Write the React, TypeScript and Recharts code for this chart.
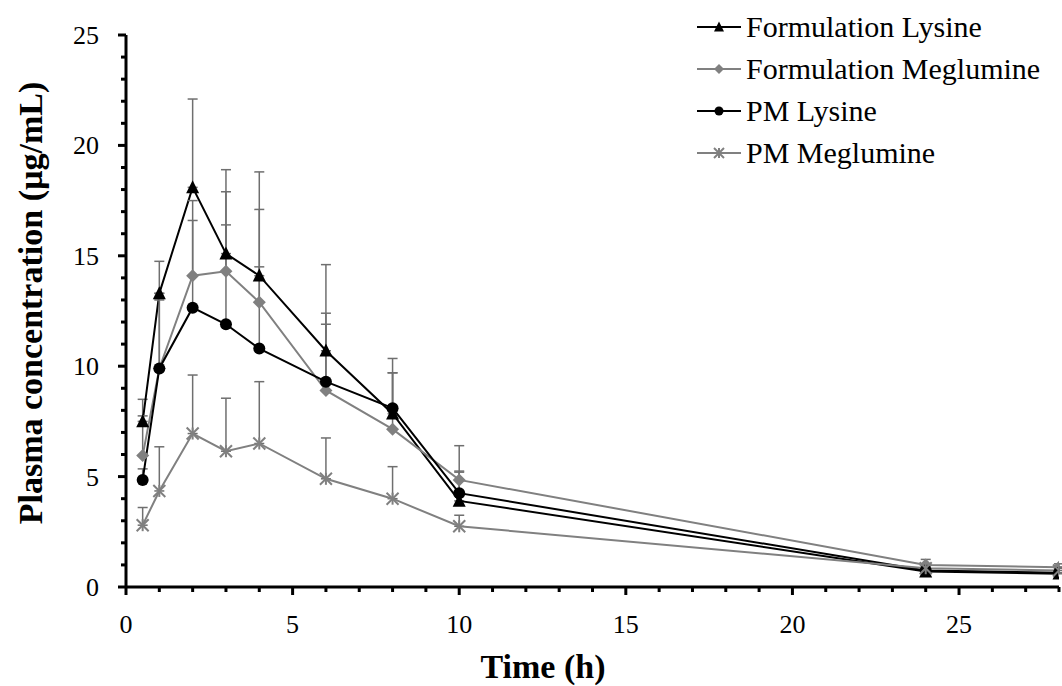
import React from "react";
import { LineChart, Line, XAxis, YAxis, ErrorBar, Legend, Label } from "recharts";

const FONT = '"Liberation Serif", "Times New Roman", serif';

// sampling times (h)
const times = [0.5, 1, 2, 3, 4, 6, 8, 10, 24, 28];

// mean plasma concentrations (µg/mL) and upper SD
const formulationLysine = [7.5, 13.3, 18.1, 15.1, 14.1, 10.7, 7.85, 3.9, 0.7, 0.6];
const formulationLysineSd = [1.0, 1.45, 4.0, 3.8, 4.7, 3.9, 2.5, 1.35, 0.35, 0.25];
const formulationMeglumine = [5.95, 9.9, 14.1, 14.3, 12.9, 8.9, 7.15, 4.85, 1.0, 0.9];
const formulationMeglumineSd = [1.8, 3.1, 3.4, 3.6, 4.2, 3.0, 2.55, 1.55, 0.25, 0.15];
const pmLysine = [4.85, 9.9, 12.65, 11.9, 10.8, 9.3, 8.1, 4.25, 0.75, 0.65];
const pmLysineSd = [0.5, 3.4, 3.95, 4.5, 3.7, 3.1, 1.6, 0.95, 0.3, 0.2];
const pmMeglumine = [2.8, 4.35, 6.95, 6.15, 6.5, 4.9, 4.0, 2.75, 0.85, 0.75];
const pmMeglumineSd = [0.8, 2.0, 2.65, 2.4, 2.8, 1.85, 1.45, 0.5, 0.2, 0.15];

const xTicks = [0, 1, 2, 3, 4, 5, 6, 7, 8, 9, 10, 11, 12, 13, 14, 15, 16, 17, 18, 19, 20, 21, 22, 23, 24, 25, 26, 27, 28];
const yTicks = [0, 1, 2, 3, 4, 5, 6, 7, 8, 9, 10, 11, 12, 13, 14, 15, 16, 17, 18, 19, 20, 21, 22, 23, 24, 25];

const data = times.map((t, i) => ({
  t,
  fl: formulationLysine[i],
  flErr: [0, formulationLysineSd[i]],
  fm: formulationMeglumine[i],
  fmErr: [0, formulationMeglumineSd[i]],
  pl: pmLysine[i],
  plErr: [0, pmLysineSd[i]],
  pm: pmMeglumine[i],
  pmErr: [0, pmMeglumineSd[i]],
}));

const BLACK = "#000000";
const GREY = "#808080";
const ERR = "#6f6f6f";

const marker = (kind: string, cx: number, cy: number, s: number, key?: any) => {
  if (kind === "triangle") {
    return (
      <polygon key={key} fill={BLACK}
        points={`${cx},${cy - s * 0.55} ${cx - s / 2},${cy + s * 0.45} ${cx + s / 2},${cy + s * 0.45}`} />
    );
  }
  if (kind === "diamond") {
    return (
      <polygon key={key} fill={GREY}
        points={`${cx},${cy - s / 2} ${cx + s / 2},${cy} ${cx},${cy + s / 2} ${cx - s / 2},${cy}`} />
    );
  }
  if (kind === "circle") {
    return <circle key={key} cx={cx} cy={cy} r={s / 2} fill={BLACK} />;
  }
  const h = s / 2;
  return (
    <g key={key} stroke={GREY} strokeWidth={2}>
      <line x1={cx - h} y1={cy - h} x2={cx + h} y2={cy + h} />
      <line x1={cx - h} y1={cy + h} x2={cx + h} y2={cy - h} />
      <line x1={cx} y1={cy - h} x2={cx} y2={cy + h} />
    </g>
  );
};

const dotFor = (kind: string, s: number) => (props: any) => {
  if (props.cx == null || props.cy == null) return <g key={props.index} />;
  return marker(kind, props.cx, props.cy, s, props.index);
};

const shapes: Record<string, string> = { fl: "triangle", fm: "diamond", pl: "circle", pm: "star" };

const XTick = (props: any) => {
  const { x, y, payload } = props;
  const major = payload.value % 5 === 0;
  return (
    <g>
      <line x1={x} y1={y} x2={x} y2={y + (major ? 8 : 5)} stroke={BLACK} strokeWidth={3} />
      {major && (
        <text x={x} y={y + 46} textAnchor="middle" fontSize={26} fill={BLACK}
          style={{ fontFamily: FONT }}>
          {payload.value}
        </text>
      )}
    </g>
  );
};

const YTick = (props: any) => {
  const { x, y, payload } = props;
  const major = payload.value % 5 === 0;
  return (
    <g>
      <line x1={x} y1={y} x2={x - (major ? 8 : 5)} y2={y} stroke={BLACK} strokeWidth={3} />
      {major && (
        <text x={x - 27} y={y + 9} textAnchor="end" fontSize={26} fill={BLACK}
          style={{ fontFamily: FONT }}>
          {payload.value}
        </text>
      )}
    </g>
  );
};

const renderLegend = (props: any) => {
  const { payload } = props;
  return (
    <svg width={372} height={180}>
      {(payload || []).map((p: any, i: number) => {
        const cy = 27 + i * 42;
        const kind = shapes[p.dataKey];
        const color = kind === "triangle" || kind === "circle" ? BLACK : GREY;
        return (
          <g key={p.value}>
            <line x1={7} y1={cy} x2={51} y2={cy} stroke={color} strokeWidth={2} />
            {marker(kind, 29, cy, kind === "circle" ? 9 : 10)}
            <text x={56} y={cy} dy="0.34em" fontSize={30} fill={BLACK} style={{ fontFamily: FONT }}>
              {p.value}
            </text>
          </g>
        );
      })}
    </svg>
  );
};

const App = () => {
  return (
    <div style={{ position: "absolute", left: 0, top: 0, background: "#fff" }}>
      <LineChart width={1062} height={686} data={data}
        margin={{ top: 35, right: 3, left: 66, bottom: 0 }}
        style={{ fontFamily: FONT }}>
        <XAxis dataKey="t" type="number" domain={[0, 28]} ticks={xTicks} interval={0}
          height={99} tickSize={0} tickMargin={0} tickLine={false} tick={<XTick />}
          axisLine={{ stroke: BLACK, strokeWidth: 3 }} allowDataOverflow>
          <Label content={() => (
            <text x={543} y={678} textAnchor="middle" fontSize={34} fontWeight="bold"
              style={{ fontFamily: FONT }} fill={BLACK}>Time (h)</text>
          )} />
        </XAxis>
        <YAxis type="number" domain={[0, 25]} ticks={yTicks} interval={0}
          width={60} tickSize={0} tickMargin={0} tickLine={false} tick={<YTick />}
          axisLine={{ stroke: BLACK, strokeWidth: 3 }} allowDataOverflow>
          <Label content={() => (
            <text transform="translate(42, 303) rotate(-90)" textAnchor="middle" fontSize={34}
              fontWeight="bold" style={{ fontFamily: FONT }} fill={BLACK}>Plasma concentration (µg/mL)</text>
          )} />
        </YAxis>
        <Legend layout="vertical" align="center" verticalAlign="middle" content={renderLegend}
          wrapperStyle={{ position: "absolute", left: 690, top: 0, width: 372, height: 180 }} />
        <Line name="Formulation Lysine" dataKey="fl" type="linear" stroke={BLACK} strokeWidth={2}
          dot={dotFor("triangle", 13)} activeDot={false} isAnimationActive={false}>
          <ErrorBar dataKey="flErr" direction="y" width={5} stroke={ERR} strokeWidth={1.5} />
        </Line>
        <Line name="Formulation Meglumine" dataKey="fm" type="linear" stroke={GREY} strokeWidth={2}
          dot={dotFor("diamond", 13)} activeDot={false} isAnimationActive={false}>
          <ErrorBar dataKey="fmErr" direction="y" width={5} stroke={ERR} strokeWidth={1.5} />
        </Line>
        <Line name="PM Lysine" dataKey="pl" type="linear" stroke={BLACK} strokeWidth={2}
          dot={dotFor("circle", 12)} activeDot={false} isAnimationActive={false}>
          <ErrorBar dataKey="plErr" direction="y" width={5} stroke={ERR} strokeWidth={1.5} />
        </Line>
        <Line name="PM Meglumine" dataKey="pm" type="linear" stroke={GREY} strokeWidth={2}
          dot={dotFor("star", 12)} activeDot={false} isAnimationActive={false}>
          <ErrorBar dataKey="pmErr" direction="y" width={5} stroke={ERR} strokeWidth={1.5} />
        </Line>
      </LineChart>
    </div>
  );
};

export default App;
